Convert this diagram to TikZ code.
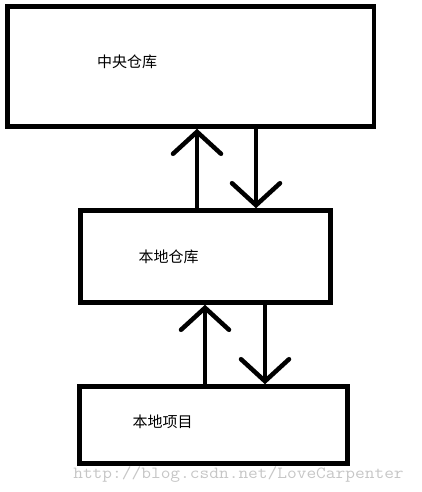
\documentclass[tikz,border=0pt]{standalone}
\usepackage{fontspec}
\newfontfamily\cjk{Noto Sans CJK SC}
\usetikzlibrary{arrows.meta}

\begin{document}
\begin{tikzpicture}[x=1pt, y=-1pt]
  % Define box, box text and arrow style
  \tikzstyle{mybox} = [draw=black, line width=4.5pt, rectangle, inner sep=0pt]
  \tikzstyle{boxtext} = [font=\cjk\fontsize{15}{15}\selectfont, inner sep=0pt]
  \tikzstyle{flecha} = [line width=4.5pt, line cap=round,
  -{Straight Barb[length=22pt, width=48pt, line cap=round]}]
  \tikzstyle{marca} = [font=\ttfamily\fontsize{17}{17}\selectfont, text=gray!45,
  xscale=1.11, inner sep=0pt, anchor=base]

  \useasboundingbox (0,0) rectangle (421,492);

  % the three boxes
  \node [mybox, minimum width=366.5pt, minimum height=120pt] (central) at (190.75,66.5) {};
  \node [mybox, minimum width=250pt, minimum height=92pt] (local) at (205.5,256.5) {};
  \node [mybox, minimum width=268pt, minimum height=77pt] (project) at (213.5,425) {};

  \node [boxtext] (centraltext) at (127,62) {中央仓库};
  \node [boxtext] (localtext) at (168.5,257) {本地仓库};
  \node [boxtext] (projecttext) at (162.5,422) {本地项目};

  % arrows between the boxes
  \coordinate (upone) at (197,0);
  \coordinate (downone) at (256,0);
  \coordinate (uptwo) at (205,0);
  \coordinate (downtwo) at (265,0);
  \draw [flecha] (local.north -| upone) -- (central.south -| upone);
  \draw [flecha] (central.south -| downone) -- (local.north -| downone);
  \draw [flecha] (project.north -| uptwo) -- (local.south -| uptwo);
  \draw [flecha] (local.south -| downtwo) -- (project.north -| downtwo);

  \node [marca] (mark) at (238.5,478) {http://blog.csdn.net/LoveCarpenter};
\end{tikzpicture}
\end{document}
